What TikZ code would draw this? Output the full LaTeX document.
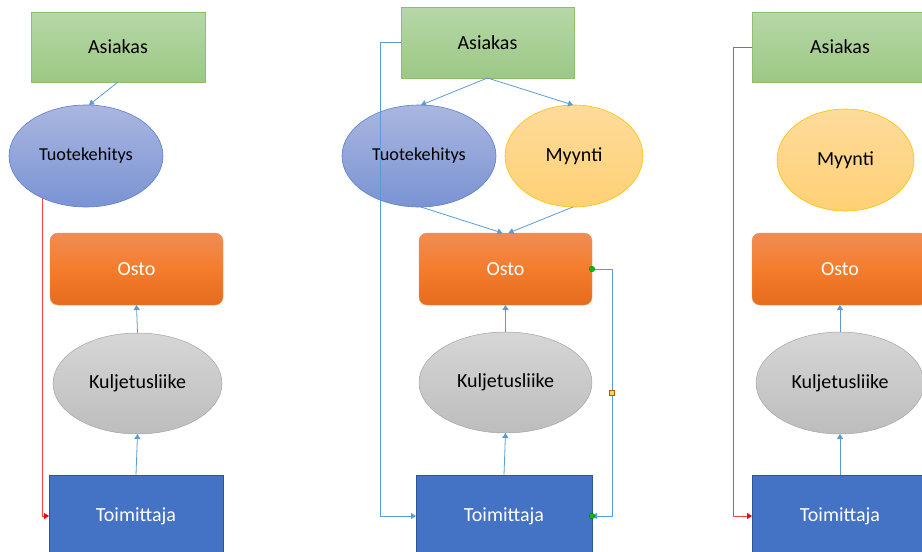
\documentclass[tikz,border=0pt]{standalone}
\usepackage{fontspec}
\setmainfont{Carlito}
\usetikzlibrary{shapes.geometric,arrows.meta,calc}

\definecolor{flowblue}{HTML}{5B9BD5}
\definecolor{flowred}{HTML}{FF4040}
\definecolor{custtop}{HTML}{B7D7A8}
\definecolor{custbot}{HTML}{9CC884}
\definecolor{custline}{HTML}{8CC06A}
\definecolor{devtop}{HTML}{ABB6E0}
\definecolor{devbot}{HTML}{7A93D3}
\definecolor{devline}{HTML}{5B7FCC}
\definecolor{saletop}{HTML}{FDDB9B}
\definecolor{salebot}{HTML}{FFD175}
\definecolor{saleline}{HTML}{FFC000}
\definecolor{buytop}{HTML}{F08D55}
\definecolor{buymid}{HTML}{F47C2C}
\definecolor{buybot}{HTML}{E46C1C}
\definecolor{shiptop}{HTML}{D6D6D6}
\definecolor{shipbot}{HTML}{BDBDBD}
\definecolor{shipline}{HTML}{A5A5A5}
\definecolor{supfill}{HTML}{4472C4}
\definecolor{supline}{HTML}{2F5597}

\tikzset{
  x=1pt, y=-1pt,
  every node/.style={inner sep=0pt, outer sep=0pt},
  customer/.style={rectangle, draw=custline, line width=0.6pt,
    top color=custtop, bottom color=custbot,
    minimum width=174pt, minimum height=70pt, font=\fontsize{20}{24}\selectfont},
  devel/.style={ellipse, draw=devline, line width=0.6pt,
    top color=devtop, bottom color=devbot,
    minimum width=154pt, minimum height=102pt, font=\fontsize{18.2}{22}\selectfont},
  sales/.style={ellipse, draw=saleline, line width=0.6pt,
    top color=saletop, bottom color=salebot,
    minimum width=138pt, minimum height=102pt, font=\fontsize{20}{24}\selectfont},
  purchase/.style={rectangle, rounded corners=8pt, draw=buytop, line width=0.4pt,
    top color=buytop, bottom color=buybot, middle color=buymid,
    minimum width=173pt, minimum height=72pt, text=white,
    font=\fontsize{20}{24}\selectfont},
  carrier/.style={ellipse, draw=shipline, line width=0.5pt,
    top color=shiptop, bottom color=shipbot,
    minimum width=169pt, minimum height=101pt, font=\fontsize{20}{24}\selectfont},
  supplier/.style={rectangle, draw=supline, line width=0.8pt, fill=supfill,
    minimum width=174pt, minimum height=82pt, text=white,
    font=\fontsize{20}{24}\selectfont},
  link/.style={draw=flowblue, line width=0.8pt,
    -{Triangle[width=6pt,length=5pt]}},
  redlink/.style={draw=flowred, line width=0.8pt,
    -{Triangle[width=6pt,length=5pt,color=red]}},
  handle/.style={circle, fill=green!75!black, draw=green!45!black,
    line width=0.3pt, minimum size=5.5pt},
  midhandle/.style={rectangle, fill=yellow!60!orange!70, draw=orange!70!black,
    line width=0.3pt, minimum size=5pt},
}

\begin{document}
\begin{tikzpicture}
\useasboundingbox (0,0) rectangle (922,552);
\clip (0,0) rectangle (922,552);

% ---- first chain ----
\node[customer] (A1) at (118,47) {Asiakas};
\node[devel]    (T1) at (86,156) {Tuotekehitys};
\node[purchase] (O1) at (136.5,269) {Osto};
\node[carrier]  (K1) at (137.5,383.5) {Kuljetusliike};
\node[supplier] (S1) at (136,516) {Toimittaja};

\draw[link] (A1.south) -- ([xshift=3pt]T1.north);
\draw[link] (K1.north) -- (O1.south);
\draw[link] (S1.north) -- (K1.south);
\draw[redlink] (T1.224) |- (S1.west);

% ---- second chain ----
\node[customer, minimum width=173pt, minimum height=71pt] (A2) at (487.5,42.5) {Asiakas};
\node[devel]    (T2) at (419,156) {Tuotekehitys};
\node[sales]    (M2) at (574,156) {Myynti};
\node[purchase] (O2) at (505.5,269) {Osto};
\node[carrier, minimum width=173pt] (K2) at (505.5,382.5) {Kuljetusliike};
\node[supplier, minimum width=176pt] (S2) at (504,516) {Toimittaja};

\draw[link] (A2.south) -- ([xshift=2pt]T2.north);
\draw[link] (A2.south) -- ([xshift=-1pt]M2.north);
\draw[link] ([xshift=2pt]T2.south) -- ([xshift=-3pt]O2.north);
\draw[link] ([xshift=-1pt]M2.south) -- ([xshift=3pt]O2.north);
\draw[link] (K2.north) -- (O2.south);
\draw[link] (S2.north) -- (K2.south);
\draw[link] (A2.west) -- ([xshift=-21pt]A2.west) |- (S2.west);
\coordinate (R2) at ($(O2.east)+(20pt,0)$);
\draw[link] (O2.east) -- (R2) |- (S2.east);
\node[handle] at (O2.east) {};
\node[handle] at (S2.east) {};
\node[midhandle] at ($(R2)!0.5!(R2 |- S2.east)$) {};

% ---- third chain ----
\node[customer, minimum width=176pt] (A3) at (840,47) {Asiakas};
\node[sales, minimum width=137pt] (M3) at (845.5,160) {Myynti};
\node[purchase, minimum width=176pt] (O3) at (840,269) {Osto};
\node[carrier, minimum width=168pt, minimum height=102pt] (K3) at (840,383) {Kuljetusliike};
\node[supplier, minimum width=176pt] (S3) at (840,516) {Toimittaja};

\draw[link] (K3.north) -- (O3.south);
\draw[link] (S3.north) -- (K3.south);
\draw[redlink] (A3.west) -- ([xshift=-19pt]A3.west) |- (S3.west);
\end{tikzpicture}
\end{document}
